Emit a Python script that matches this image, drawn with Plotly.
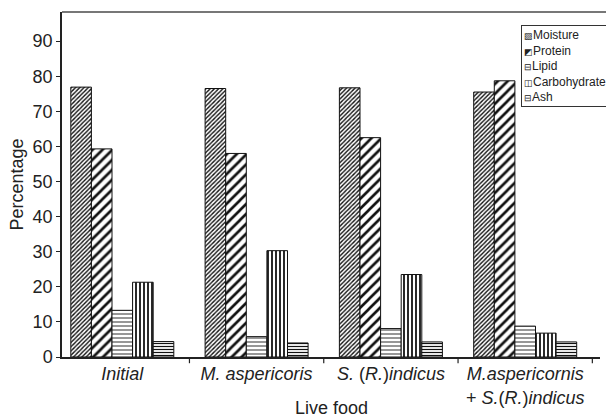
import plotly.graph_objects as go

categories = ["<i>Initial</i>", "<i>M. aspericoris</i>", "<i>S.</i> (<i>R.</i>)<i>indicus</i>",
              "<i>M.aspericornis</i><br>+ <i>S.</i>(<i>R.</i>)<i>indicus</i>"]
cat_pos = [0, 1, 2, 3]
series_names = ["Moisture", "Protein", "Lipid", "Carbohydrate", "Ash"]
legend_icons = ["▨", "◩", "⊟", "◫", "⊟"]
moisture = [76.9, 76.5, 76.7, 75.5]
protein = [59.3, 58.0, 62.5, 78.7]
lipid = [13.3, 5.8, 8.1, 8.8]
carbohydrate = [21.3, 30.3, 23.5, 6.8]
ash = [4.4, 4.0, 4.3, 4.3]
series_values = [moisture, protein, lipid, carbohydrate, ash]
y_ticks = [0, 10, 20, 30, 40, 50, 60, 70, 80, 90]
sep_ticks = [0.5, 1.5, 2.5, 3.5]

patterns = [
    dict(shape="/", size=3, solidity=0.45),
    dict(shape="/", size=7, solidity=0.38),
    dict(shape="-", size=4, solidity=0.22),
    dict(shape="|", size=4, solidity=0.45),
    dict(shape="-", size=3, solidity=0.4),
]

fig = go.Figure()
for name, vals, pat in zip(series_names, series_values, patterns):
    fig.add_trace(go.Bar(
        x=cat_pos, y=vals, name=name, showlegend=False,
        marker=dict(color="white", line=dict(color="#111", width=1),
                    pattern=dict(fgcolor="#111", bgcolor="white", fillmode="replace", **pat)),
    ))

font = "Liberation Sans, Arial, sans-serif"
fig.update_layout(
    width=606, height=420,
    margin=dict(l=62, r=6, t=12, b=63, autoexpand=False),
    paper_bgcolor="white", plot_bgcolor="white",
    barmode="group", bargap=0.233, bargroupgap=0,
    font=dict(family=font, size=18, color="#222"),
    showlegend=False,
    xaxis=dict(range=[-0.449, 3.557], tickvals=cat_pos, ticktext=categories,
               ticks="", showline=True, linecolor="#222", linewidth=1.5,
               showgrid=False, zeroline=False, tickfont=dict(size=18)),
    yaxis=dict(range=[0, 98.3], tickvals=y_ticks, ticks="outside", ticklen=4,
               tickcolor="#222", showline=True, linecolor="#222", linewidth=1.5,
               showgrid=False, zeroline=False, tickfont=dict(size=18),
               title=dict(text="Percentage", font=dict(size=18), standoff=4)),
)

# separator ticks between categories
for s in sep_ticks:
    fig.add_shape(type="line", xref="x", yref="paper", x0=s, x1=s, y0=0, y1=-0.018,
                  line=dict(color="#222", width=1.2))
# top frame line
fig.add_shape(type="line", xref="paper", yref="paper", x0=0, x1=1.02, y0=1, y1=1,
              line=dict(color="#777", width=2))

# legend drawn as a text block (small glyph icons + names)
legend_text = "<br>".join(
    f'<span style="font-size:9px">{ic}</span>{nm}' for ic, nm in zip(legend_icons, series_names))
fig.add_annotation(text=legend_text, xref="paper", yref="paper",
                   x=(521 - 62) / 538, y=(357 - 25) / 345, xanchor="left", yanchor="top",
                   align="left", showarrow=False, bgcolor="white",
                   bordercolor="#333", borderwidth=1, borderpad=2,
                   font=dict(size=12, color="#222"))

fig.add_annotation(text="Live food", xref="paper", yref="paper", x=0.5, y=(357 - 408) / 345,
                   yanchor="middle", showarrow=False, font=dict(size=18, color="#222"))

fig.write_html("out.html")
